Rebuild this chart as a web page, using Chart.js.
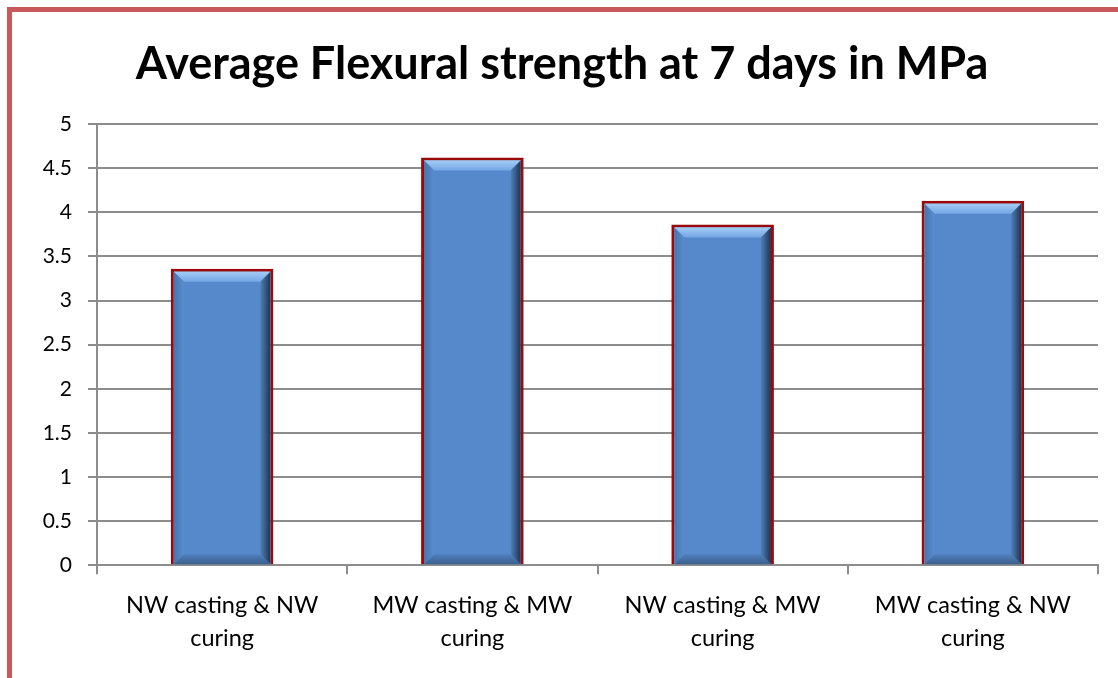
<!DOCTYPE html>
<html>
<head>
<meta charset="utf-8">
<script src="https://cdn.jsdelivr.net/npm/chart.js@4.4.1/dist/chart.umd.min.js"></script>
<style>
  html, body { margin: 0; padding: 0; background: #fff; overflow: hidden; }
  #frame {
    position: absolute; left: 7px; top: 7px; width: 1300px; height: 900px;
    border-left: 5px solid #c9585a; border-top: 5px solid #c9585a;
  }
  #wrap { position: absolute; left: 0; top: 0; width: 1118px; height: 678px; }
</style>
</head>
<body>
<div id="frame"></div>
<div id="wrap"><canvas id="chart" width="1118" height="678"></canvas></div>
<script>
const categories = [
  ["NW casting & NW", "curing"],
  ["MW casting & MW", "curing"],
  ["NW casting & MW", "curing"],
  ["MW casting & NW", "curing"],
];
const strength = [3.36, 4.62, 3.86, 4.13];
const yTicks = [0, 0.5, 1, 1.5, 2, 2.5, 3, 3.5, 4, 4.5, 5];

const FONT = "Lato, 'DejaVu Sans', sans-serif";
const PAD_LEFT = 26;
const AXIS_LEFT = 97;

// bevel look of the old office bars, drawn over each bar element
const bevelPlugin = {
  id: "bevel",
  afterDatasetsDraw(chart) {
    const ctx = chart.ctx;
    chart.getDatasetMeta(0).data.forEach((bar) => {
      const p = bar.getProps(["x", "y", "width", "base"], true);
      const l = p.x - p.width / 2 + 3;
      const r = p.x + p.width / 2 - 3;
      const t = p.y + 3;
      const b = p.base;
      const s = 10;
      ctx.save();

      let g = ctx.createLinearGradient(0, t, 0, t + s);
      g.addColorStop(0, "#a4cbf6");
      g.addColorStop(1, "#72a6e4");
      ctx.fillStyle = g;
      ctx.beginPath();
      ctx.moveTo(l, t); ctx.lineTo(r, t); ctx.lineTo(r - s, t + s); ctx.lineTo(l + s, t + s);
      ctx.closePath(); ctx.fill();

      g = ctx.createLinearGradient(r - s, 0, r, 0);
      g.addColorStop(0, "#4f7fba");
      g.addColorStop(1, "#1f3550");
      ctx.fillStyle = g;
      ctx.beginPath();
      ctx.moveTo(r, t); ctx.lineTo(r, b); ctx.lineTo(r - s, b - s); ctx.lineTo(r - s, t + s);
      ctx.closePath(); ctx.fill();

      g = ctx.createLinearGradient(l, 0, l + s, 0);
      g.addColorStop(0, "#4675b0");
      g.addColorStop(1, "#5a8dcc");
      ctx.fillStyle = g;
      ctx.beginPath();
      ctx.moveTo(l, t); ctx.lineTo(l + s, t + s); ctx.lineTo(l + s, b - s); ctx.lineTo(l, b);
      ctx.closePath(); ctx.fill();

      g = ctx.createLinearGradient(0, b - s, 0, b);
      g.addColorStop(0, "#5080bd");
      g.addColorStop(1, "#3a5f8e");
      ctx.fillStyle = g;
      ctx.beginPath();
      ctx.moveTo(l, b); ctx.lineTo(l + s, b - s); ctx.lineTo(r - s, b - s); ctx.lineTo(r, b);
      ctx.closePath(); ctx.fill();

      ctx.restore();
    });
  },
};

new Chart(document.getElementById("chart"), {
  type: "bar",
  data: {
    labels: categories,
    datasets: [{
      data: strength,
      backgroundColor: "#5589cb",
      borderColor: "#9a0a0a",
      borderWidth: { left: 3, top: 3, right: 3, bottom: 0 },
      categoryPercentage: 1,
      barPercentage: 0.41,
    }],
  },
  options: {
    responsive: false,
    animation: false,
    layout: { padding: { left: PAD_LEFT, right: 20, top: 0, bottom: 9 } },
    plugins: {
      legend: { display: false },
      tooltip: { enabled: false },
      title: {
        display: true,
        text: "Average Flexural strength at 7 days in MPa",
        color: "#000",
        font: { family: FONT, size: 45, weight: "bold" },
        padding: { top: 37, bottom: 33 },
      },
    },
    scales: {
      x: {
        offset: true,
        grid: {
          offset: true,
          drawOnChartArea: false,
          drawTicks: true,
          tickLength: 9,
          color: "#8c8c8c",
          lineWidth: 2,
        },
        border: { color: "#8c8c8c", width: 2 },
        ticks: {
          color: "#000",
          font: { family: FONT, size: 23.5, lineHeight: 1.42 },
          padding: 14,
          maxRotation: 0,
          autoSkip: false,
        },
      },
      y: {
        min: 0,
        max: 5,
        afterBuildTicks: (scale) => {
          scale.ticks = yTicks.map((v) => ({ value: v }));
        },
        afterFit: (scale) => { scale.width = AXIS_LEFT - PAD_LEFT; },
        grid: { color: "#8c8c8c", lineWidth: 2, tickLength: 9 },
        border: { color: "#8c8c8c", width: 2 },
        ticks: {
          color: "#000",
          font: { family: FONT, size: 21 },
          padding: 16,
          callback: (v) => String(v),
        },
      },
    },
  },
  plugins: [bevelPlugin],
});
</script>
</body>
</html>
